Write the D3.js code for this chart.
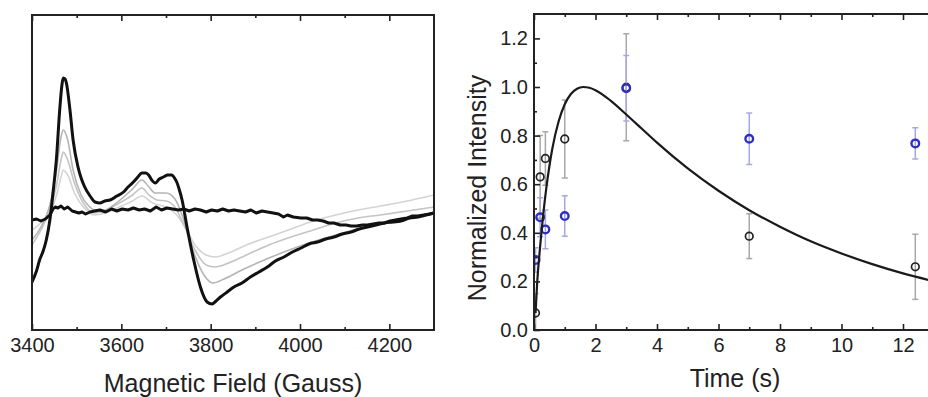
<!DOCTYPE html>
<html>
<head>
<meta charset="utf-8">
<title>EPR spectra and kinetics</title>
<script src="https://d3js.org/d3.v7.min.js"></script>
<style>
  body { margin: 0; background: #fff; }
  svg text { font-family: "Liberation Sans", Arial, Helvetica, sans-serif; fill: #222; }
</style>
</head>
<body>
<script>
// ---- data: left panel (spectra, arbitrary units) ----
var fieldTicks = [3400, 3600, 3800, 4000, 4200];
var fieldMinor = [3500, 3700, 3900, 4100];

var traceMain = [[3400,-67],[3410,-56],[3417,-45],[3425,-36],[3432,-25],[3440,-5],[3447,22],[3455,58],[3462,105],
  [3467,130],[3470,137],[3474,136],[3477,132],[3485,105],[3492,75],[3503,48],[3510,37],[3518,28],[3530,19],[3541,13],
  [3552,12],[3563,14],[3575,15],[3590,19],[3605,23],[3615,28],[3627,33],[3637,38],[3646,42],[3655,42],[3661,40],
  [3668,35],[3676,32],[3685,36],[3694,38],[3704,40],[3713,40],[3719,37],[3724,33],[3730,25],[3736,15],[3747,-12],
  [3762,-45],[3777,-72],[3792,-87],[3803,-89],[3812,-86],[3822,-82],[3837,-77],[3852,-72],[3870,-68],[3889,-62],
  [3908,-57],[3927,-52],[3945,-46],[3964,-42],[3983,-37],[4002,-33],[4020,-29],[4039,-27],[4058,-24],[4076,-22],
  [4095,-19],[4114,-17],[4133,-14],[4151,-12],[4170,-10],[4189,-8],[4208,-7],[4226,-6],[4245,-3],[4264,-2],[4282,0],[4300,2]];

var traceFlat = [[3400,-5],[3410,-4],[3420,-6],[3430,-4],[3440,0],[3447,6],[3452,8],[3458,7],[3465,9],[3472,6],
  [3480,8],[3490,4],[3505,2],[3512,3],[3520,1],[3530,3],[3540,4],[3552,5],[3565,3],[3578,6],[3590,4],[3602,6],
  [3615,5],[3627,7],[3640,5],[3652,6],[3665,4],[3678,8],[3690,5],[3702,7],[3715,6],[3728,5],[3740,6],[3752,4],
  [3765,6],[3777,5],[3790,3],[3802,5],[3815,4],[3827,6],[3840,4],[3852,5],[3865,4],[3878,3],[3890,5],[3902,2],
  [3915,4],[3927,3],[3940,2],[3952,1],[3963,-2],[3972,0],[3985,-2],[4002,-3],[4015,-3],[4028,-5],[4039,-5],[4052,-6],
  [4064,-8],[4076,-8],[4090,-10],[4103,-10],[4114,-11],[4127,-11],[4140,-10],[4151,-10],[4164,-9],[4177,-8],
  [4189,-8],[4202,-6],[4214,-5],[4226,-4],[4240,-3],[4252,-1],[4264,-1],[4277,0],[4290,1],[4300,2]];

var traceGrayA = [[3400,-25],[3420,-12],[3440,10],[3455,45],[3465,78],[3470,85],[3475,82],[3480,75],[3492,45],[3510,20],
  [3525,10],[3540,5],[3560,4],[3580,9],[3600,16],[3625,26],[3646,35],[3662,28],[3676,22],[3700,22],[3720,16],[3736,0],
  [3760,-35],[3785,-60],[3805,-68],[3830,-64],[3870,-55],[3920,-45],[3970,-36],[4020,-28],[4080,-20],[4120,-15],
  [4180,-9],[4240,-4],[4300,2]];

var traceGrayB = [[3400,-30],[3420,-15],[3440,5],[3455,30],[3465,55],[3470,63],[3475,60],[3480,55],[3495,32],[3515,12],
  [3540,2],[3570,6],[3600,13],[3625,20],[3646,27],[3662,20],[3680,15],[3700,14],[3720,8],[3740,-10],[3765,-35],
  [3790,-50],[3810,-52],[3840,-48],[3880,-40],[3930,-30],[3980,-22],[4030,-15],[4080,-8],[4130,-3],[4180,0],
  [4240,4],[4300,8]];

var traceGrayC = [[3400,-15],[3420,-8],[3440,2],[3455,20],[3465,38],[3470,45],[3475,43],[3480,40],[3495,22],[3515,8],
  [3540,0],[3570,3],[3600,9],[3625,14],[3646,19],[3670,12],[3700,8],[3720,2],[3740,-10],[3765,-30],[3790,-40],
  [3810,-42],[3840,-38],[3880,-30],[3930,-22],[3980,-14],[4030,-6],[4080,0],[4130,5],[4180,9],[4240,14],[4300,20]];

// ---- data: right panel (kinetics) ----
var timeTicks = [0, 2, 4, 6, 8, 10, 12];
var intensityTicks = [0, 0.2, 0.4, 0.6, 0.8, 1.0, 1.2];

var times = [0.05, 0.2, 0.37, 1, 3, 7, 12.4];
var blackVals = [0.07, 0.63, 0.706, 0.786, 0.999, 0.386, 0.26];
var blackErr = [0.08, 0.17, 0.11, 0.16, 0.22, 0.092, 0.134];
var blueVals = [0.288, 0.464, 0.414, 0.469, 0.995, 0.787, 0.768];
var blueErr = [0.05, 0.08, 0.08, 0.083, 0.135, 0.106, 0.064];

var fitTime = [0.05, 0.1, 0.2, 0.3, 0.4, 0.5, 0.6, 0.8, 1.0, 1.2, 1.4, 1.6, 1.8, 2.0, 2.5, 3, 3.5, 4, 5, 6, 7, 8, 9, 10, 11, 12, 13, 14];
var fitVals = [0.07, 0.187, 0.344, 0.475, 0.584, 0.674, 0.749, 0.858, 0.929, 0.971, 0.993, 1.0, 0.997, 0.987, 0.943, 0.887,
  0.829, 0.771, 0.665, 0.573, 0.493, 0.425, 0.365, 0.315, 0.271, 0.233, 0.201, 0.173];

var W = 928, H = 397;
var svg = d3.select("body").append("svg").attr("width", W).attr("height", H);

// ================= left panel =================
var L = { left: 32, right: 434, top: 15, bottom: 330 };
var xF = d3.scaleLinear().domain([3400, 4300]).range([L.left, L.right]);
var yF = d3.scaleLinear().domain([-115, 200]).range([L.bottom, L.top]);

svg.append("clipPath").attr("id", "clipL")
  .append("rect").attr("x", L.left).attr("y", L.top)
  .attr("width", L.right - L.left).attr("height", L.bottom - L.top);

var lineF = d3.line().x(function (d) { return xF(d[0]); }).y(function (d) { return yF(d[1]); });

var gL = svg.append("g").attr("clip-path", "url(#clipL)");
var traces = [
  { d: traceGrayC, c: "#d4d4d4", w: 1.6, curve: d3.curveMonotoneX },
  { d: traceGrayB, c: "#c4c4c4", w: 1.6, curve: d3.curveMonotoneX },
  { d: traceGrayA, c: "#b4b4b4", w: 1.6, curve: d3.curveMonotoneX },
  { d: traceFlat, c: "#111", w: 3, curve: d3.curveLinear },
  { d: traceMain, c: "#111", w: 3, curve: d3.curveMonotoneX }
];
gL.selectAll("path.trace").data(traces).enter().append("path")
  .attr("class", "trace")
  .attr("d", function (t) { return lineF.curve(t.curve)(t.d); })
  .attr("fill", "none")
  .attr("stroke", function (t) { return t.c; })
  .attr("stroke-width", function (t) { return t.w; })
  .attr("stroke-linejoin", "round");

// axes (inward ticks on top and bottom)
svg.append("g").attr("transform", "translate(0," + L.bottom + ")")
  .call(d3.axisBottom(xF).tickValues(fieldTicks).tickSize(-6).tickPadding(8).tickFormat(d3.format("d")))
  .call(styleAxis);
svg.append("g").attr("transform", "translate(0," + L.bottom + ")")
  .call(d3.axisBottom(xF).tickValues(fieldMinor).tickSize(-3).tickFormat(""))
  .call(styleAxis);
svg.append("g").attr("transform", "translate(0," + L.top + ")")
  .call(d3.axisTop(xF).tickValues(fieldTicks).tickSize(-6).tickFormat(""))
  .call(styleAxis);
svg.append("g").attr("transform", "translate(0," + L.top + ")")
  .call(d3.axisTop(xF).tickValues(fieldMinor).tickSize(-3).tickFormat(""))
  .call(styleAxis);

svg.append("rect").attr("x", L.left).attr("y", L.top)
  .attr("width", L.right - L.left).attr("height", L.bottom - L.top)
  .attr("fill", "none").attr("stroke", "#222").attr("stroke-width", 2);

svg.append("text").attr("x", (L.left + L.right) / 2).attr("y", 392)
  .attr("text-anchor", "middle").attr("font-size", 25)
  .text("Magnetic Field (Gauss)");

// ================= right panel =================
var R = { left: 534, right: 534 + 14 * 30.75, top: 14, bottom: 330 };
var xT = d3.scaleLinear().domain([0, 14]).range([R.left, R.right]);
var yI = d3.scaleLinear().domain([0, 1.3]).range([R.bottom, R.bottom - 1.3 * 243]);

svg.append("clipPath").attr("id", "clipR")
  .append("rect").attr("x", R.left).attr("y", R.top)
  .attr("width", R.right - R.left).attr("height", R.bottom - R.top);

var gR = svg.append("g").attr("clip-path", "url(#clipR)");

function drawSeries(vals, errs, barColor, dotColor, dotWidth) {
  var pts = times.map(function (t, i) { return { t: t, v: vals[i], e: errs[i] }; });
  var g = gR.append("g");
  g.selectAll("line.bar").data(pts).enter().append("line")
    .attr("x1", function (d) { return xT(d.t); }).attr("x2", function (d) { return xT(d.t); })
    .attr("y1", function (d) { return yI(d.v + d.e); }).attr("y2", function (d) { return yI(d.v - d.e); })
    .attr("stroke", barColor).attr("stroke-width", 1.5);
  [1, -1].forEach(function (s) {
    g.selectAll("line.cap" + s).data(pts).enter().append("line")
      .attr("x1", function (d) { return xT(d.t) - 3; }).attr("x2", function (d) { return xT(d.t) + 3; })
      .attr("y1", function (d) { return yI(d.v + s * d.e); }).attr("y2", function (d) { return yI(d.v + s * d.e); })
      .attr("stroke", barColor).attr("stroke-width", 1.5);
  });
  return function () {
    g.selectAll("circle").data(pts).enter().append("circle")
      .attr("cx", function (d) { return xT(d.t); }).attr("cy", function (d) { return yI(d.v); })
      .attr("r", 3.8).attr("fill", "none")
      .attr("stroke", dotColor).attr("stroke-width", dotWidth);
  };
}

var dotsBlack = drawSeries(blackVals, blackErr, "#a8a8a8", "#222", 1.7);
var dotsBlue = drawSeries(blueVals, blueErr, "#a8a8e0", "#3030c0", 2.4);

var fitLine = d3.line().x(function (d, i) { return xT(fitTime[i]); }).y(function (d) { return yI(d); })
  .curve(d3.curveMonotoneX);
gR.append("path").attr("d", fitLine(fitVals))
  .attr("fill", "none").attr("stroke", "#1a1a1a").attr("stroke-width", 2.2);

dotsBlack();
dotsBlue();

var timeMinor = [1, 3, 5, 7, 9, 11, 13];
var intensityMinor = [0.1, 0.3, 0.5, 0.7, 0.9, 1.1];

svg.append("g").attr("transform", "translate(0," + R.bottom + ")")
  .call(d3.axisBottom(xT).tickValues(timeTicks).tickSize(-6).tickPadding(8).tickFormat(d3.format("d")))
  .call(styleAxis);
svg.append("g").attr("transform", "translate(0," + R.bottom + ")")
  .call(d3.axisBottom(xT).tickValues(timeMinor).tickSize(-3).tickFormat(""))
  .call(styleAxis);
svg.append("g").attr("transform", "translate(0," + R.top + ")")
  .call(d3.axisTop(xT).tickValues(timeTicks).tickSize(-6).tickFormat(""))
  .call(styleAxis);
svg.append("g").attr("transform", "translate(0," + R.top + ")")
  .call(d3.axisTop(xT).tickValues(timeMinor).tickSize(-3).tickFormat(""))
  .call(styleAxis);
svg.append("g").attr("transform", "translate(" + R.left + ",0)")
  .call(d3.axisLeft(yI).tickValues(intensityTicks).tickSize(-6).tickPadding(6).tickFormat(d3.format(".1f")))
  .call(styleAxis);
svg.append("g").attr("transform", "translate(" + R.left + ",0)")
  .call(d3.axisLeft(yI).tickValues(intensityMinor).tickSize(-3).tickFormat(""))
  .call(styleAxis);

svg.append("rect").attr("x", R.left).attr("y", R.top)
  .attr("width", R.right - R.left).attr("height", R.bottom - R.top)
  .attr("fill", "none").attr("stroke", "#222").attr("stroke-width", 2);

svg.append("text").attr("x", 735).attr("y", 387)
  .attr("text-anchor", "middle").attr("font-size", 25)
  .text("Time (s)");

svg.append("text").attr("transform", "translate(486,188) rotate(-90)")
  .attr("text-anchor", "middle").attr("font-size", 25)
  .text("Normalized Intensity");

function styleAxis(g) {
  g.select(".domain").remove();
  g.selectAll(".tick line").attr("stroke", "#222").attr("stroke-width", 1.6);
  g.selectAll(".tick text").attr("font-size", 20).attr("fill", "#222")
    .attr("font-family", "'Liberation Sans', Arial, Helvetica, sans-serif");
}
</script>
</body>
</html>
